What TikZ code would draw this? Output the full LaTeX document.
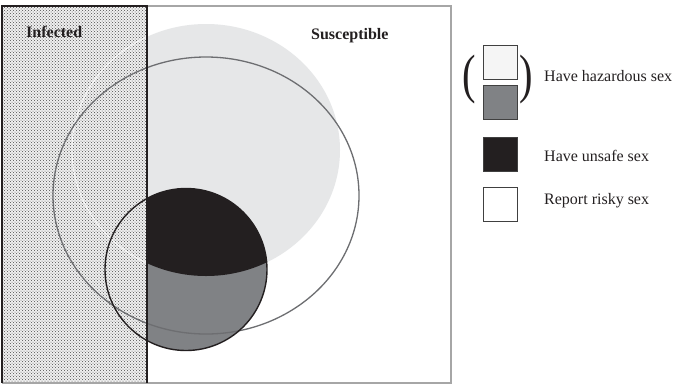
\documentclass[tikz,border=0pt]{standalone}
\usepackage{fontspec}
\setmainfont{Liberation Serif}
\usetikzlibrary{patterns}

\definecolor{inkblack}{HTML}{231F20}
\definecolor{hazardgray}{HTML}{808285}
\definecolor{palegray}{HTML}{E6E7E8}
\definecolor{rimgray}{HTML}{6D6E71}

\begin{document}
\begin{tikzpicture}[x=1pt,y=-1pt]

    \tikzstyle{frame}+=[
        draw=gray!70,
        line width = 1.3pt
    ]
    \tikzstyle{infected}+=[
        pattern=crosshatch dots,
        pattern color=black!70
    ]
    \tikzstyle{border}+=[
        draw=inkblack,
        line width = 1.8pt
    ]
    \tikzstyle{faint}+=[
        draw=white,
        line width = 0.9pt,
        draw opacity=0.8
    ]
    \tikzstyle{reportline}+=[
        draw=rimgray,
        line width = 1.3pt
    ]
    \tikzstyle{unsafeline}+=[
        draw=inkblack,
        line width = 1.4pt
    ]
    \tikzstyle{txt}+=[
        font=\fontsize{16}{19}\selectfont,
        text=inkblack,
        inner sep=0pt
    ]
    \tikzstyle{title}+=[
        txt,
        font=\fontsize{16}{19}\selectfont\bfseries
    ]
    \tikzstyle{key}+=[
        draw=black!75,
        line width = 0.6pt,
        minimum size=34pt,
        inner sep=0pt
    ]
    \tikzstyle{paren}+=[
        font=\fontsize{54}{54}\selectfont,
        text=inkblack,
        inner sep=0pt,
        xscale=0.75
    ]

    \useasboundingbox (0,0) rectangle (677,384);

    % ----------------------------------------------------------------------------
    \coordinate(hazardous) at (206,150);
    \coordinate(risky) at (206,195.5);
    \coordinate(unsafe) at (186,269.5);
    \coordinate(legend) at (500,0);

    % ----------------------------------------------------------------------------
    \fill[white] (2,6) rectangle (451,383);
    \fill[gray!12] (2,6) rectangle (147,383);
    \fill[infected] (2,6) rectangle (147,383);

    % ----------------------------------------------------------------------------
    \begin{scope}
        \clip (147,6) rectangle (451,383);
        \fill[palegray] (hazardous) ellipse [x radius=134, y radius=126];
        \fill[hazardgray] (unsafe) circle [radius=81];
        \clip (hazardous) ellipse [x radius=134, y radius=126];
        \fill[inkblack] (unsafe) circle [radius=81];
    \end{scope}
    \begin{scope}
        \clip (2,6) rectangle (147,383);
        \draw[faint] (hazardous) ellipse [x radius=134, y radius=126];
    \end{scope}

    % ----------------------------------------------------------------------------
    \draw[reportline] (risky) ellipse [x radius=153, y radius=138.5];
    \draw[unsafeline] (unsafe) circle [radius=81];

    % ----------------------------------------------------------------------------
    \draw[frame] (147,6) -- (451,6) -- (451,383) -- (2,383);
    \draw[border] (147,383) -- (147,6) -- (2,6) -- (2,383);

    % ----------------------------------------------------------------------------
    \node[title,anchor=base west] (infectedlabel) at (26,37.5) {Infected};
    \node[title,anchor=base west] (susceptiblelabel) at (311,39) {Susceptible};

    % ----------------------------------------------------------------------------
    \node[key,fill=gray!8] (hazardtop) at ([shift=(legend)]0,62) {};
    \node[key,fill=hazardgray] (hazardbottom) at ([shift=(legend)]0,102.5) {};
    \node[key,fill=inkblack] (unsafekey) at ([shift=(legend)]0,154) {};
    \node[key,fill=white] (riskykey) at ([shift=(legend)]0,204.5) {};
    \node[paren] (openparen) at ([shift=(legend)]-31,80) {(};
    \node[paren] (closeparen) at ([shift=(legend)]26,80) {)};

    % ----------------------------------------------------------------------------
    \node[txt,anchor=base west] (hazardtext) at ([shift=(legend)]44,81.7) {Have hazardous sex};
    \node[txt,anchor=base west] (unsafetext) at ([shift=(legend)]44,161.5) {Have unsafe sex};
    \node[txt,anchor=base west] (riskytext) at ([shift=(legend)]44,204) {Report risky sex};

\end{tikzpicture}
\end{document}
